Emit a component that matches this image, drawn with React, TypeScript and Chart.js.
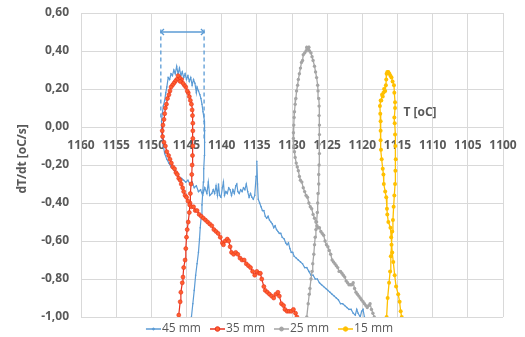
import React, { useEffect, useRef } from 'react';
import { Chart, registerables } from 'chart.js';

Chart.register(...registerables);

// ---------- axes ----------
const T_MIN = 1100;
const T_MAX = 1160;
const T_STEP = 5;
const RATE_MIN = -1;
const RATE_MAX = 0.6;
const RATE_STEP = 0.2;
const X_TITLE = 'T [oC]';
const X_TITLE_T = 1111.8;
const X_TITLE_RATE = 0.074;
const Y_TITLE = 'dT/dt [oC/s]';
const Y_TITLE_RATE = -0.168;

// ---------- series ----------
const SERIES_NAMES = ['45 mm', '35 mm', '25 mm', '15 mm'];

const t45 = [1144.3,1144.1,1143.9,1143.7,1143.5,1143.3,1143.15,1143.05,1142.9,1142.8,1142.7,1142.6,1142.55,1142.45,1142.4,1142.4,
  1142.5,1142.65,1142.8,1142.95,1143.1,1143.3,1143.5,1143.6,1143.8,1144.0,1144.2,1144.4,1144.6,1144.8,1145.0,1145.2,1145.4,1145.6,1145.8,1146.0,1146.2,1146.4,1146.6,1146.8,1147.0,1147.2,1147.4,1147.6,1147.8,
  1147.95,1148.1,1148.3,1148.45,1148.55,1148.55,1148.45,1148.3,1148.1,1147.8,
  1147.5,1147.2,1146.9,1146.6,1146.3,1146.0,1145.7,1145.4,1145.1,1144.8,1144.5,1144.2,1143.9,1143.6,1143.3,1143.0,1142.7,
  1142.4,1142.1,1141.9,1141.7,1141.4,1141.2,1141.0,1140.8,1140.6,1140.45,1140.3,1140.1,1139.9,1139.75,1139.6,1139.4,1139.2,1139.0,1138.8,1138.6,1138.4,1138.2,1138.0,1137.85,1137.7,1137.5,1137.3,1137.1,1136.9,1136.7,1136.5,1136.3,1136.1,1135.9,1135.7,1135.5,1135.3,
  1135.1,1135.0,1134.9,1134.8,1134.6,
  1134.4,1134.2,1134.0,1133.8,1133.6,1133.4,1133.2,1133.0,1132.8,1132.6,1132.4,1132.2,1132.0,1131.8,1131.6,1131.4,
  1131.1,1130.9,1130.7,1130.5,1130.3,1130.1,1129.9,1129.7,
  1129.4,1129.1,1128.8,1128.5,1128.2,1127.9,1127.6,1127.3,1127.0,1126.7,1126.4,1126.1,1125.8,1125.5,1125.2,1124.9,1124.6,1124.3,1124.0,1123.7,1123.4,1123.1,1122.8,1122.5,1122.2,1121.9,1121.6,1121.3,1121.0,
  1120.8,1120.6,1120.3,1120.1,1119.9,1119.7];
const rate45 = [-1.00,-0.93,-0.86,-0.78,-0.72,-0.66,-0.59,-0.53,-0.47,-0.41,-0.35,-0.29,-0.22,-0.15,-0.08,-0.02,
  0.03,0.08,0.12,0.15,0.17,0.19,0.21,0.18,0.23,0.25,0.22,0.26,0.24,0.27,0.25,0.28,0.26,0.29,0.27,0.31,0.28,0.32,0.28,0.30,0.27,0.28,0.25,0.26,0.21,
  0.18,0.14,0.11,0.07,0.03,-0.02,-0.06,-0.10,-0.14,-0.17,
  -0.19,-0.21,-0.22,-0.24,-0.25,-0.27,-0.27,-0.28,-0.29,-0.28,-0.30,-0.29,-0.32,-0.31,-0.34,-0.33,-0.36,
  -0.32,-0.35,-0.29,-0.36,-0.35,-0.33,-0.35,-0.31,-0.36,-0.30,-0.36,-0.37,-0.32,-0.29,-0.36,-0.34,-0.35,-0.32,-0.33,-0.36,-0.33,-0.35,-0.31,-0.30,-0.34,-0.35,-0.33,-0.34,-0.32,-0.33,-0.30,-0.34,-0.37,-0.35,-0.37,-0.38,-0.36,
  -0.26,-0.18,-0.30,-0.38,-0.40,
  -0.42,-0.44,-0.44,-0.47,-0.48,-0.47,-0.49,-0.50,-0.51,-0.53,-0.52,-0.54,-0.55,-0.56,-0.56,-0.58,
  -0.59,-0.61,-0.62,-0.61,-0.64,-0.66,-0.66,-0.68,
  -0.69,-0.70,-0.71,-0.72,-0.74,-0.74,-0.76,-0.78,-0.78,-0.80,-0.80,-0.82,-0.83,-0.84,-0.85,-0.86,-0.87,-0.88,-0.89,-0.90,-0.91,-0.93,-0.93,-0.94,-0.95,-0.96,-0.96,-0.98,-0.99,
  -0.96,-0.98,-1.00,-0.97,-0.96,-1.00];

const t35 = [1146.1,1145.9,1145.8,1145.6,1145.5,1145.4,1145.2,1145.1,1145.0,1144.9,
  1144.75,1144.6,1144.5,1144.45,1144.35,1144.25,1144.2,1144.15,1144.1,1144.1,
  1144.1,1144.1,1144.15,1144.2,1144.3,1144.45,1144.6,1144.75,1144.9,1145.1,
  1145.3,1145.5,1145.7,1145.9,1146.0,1146.2,1146.4,1146.6,1146.8,1147.0,
  1147.2,1147.35,1147.5,1147.7,1147.85,1148.0,1148.1,1148.2,1148.35,1148.45,
  1148.4,1148.2,1148.0,1147.8,1147.55,1147.35,1147.15,1146.95,1146.7,1146.5,
  1146.3,1146.1,1145.9,1145.75,1145.55,1145.4,1145.2,1145.0,1144.8,1144.55,
  1144.3,1144.0,1143.75,1143.5,1143.2,1142.9,1142.6,1142.3,1142.0,1141.7,
  1141.4,1141.1,1140.8,1140.5,1140.2,1139.9,1139.75,1139.5,1139.2,1139.0,
  1138.8,1138.6,1138.3,1138.0,1137.7,1137.4,1137.1,1136.8,1136.5,1136.2,
  1135.9,1135.6,1135.3,1135.0,1134.7,1134.5,1134.3,1134.0,1133.8,1133.5,
  1133.2,1132.9,1132.6,1132.3,1132.0,1131.8,1131.5,1131.2,1131.0,1130.7,
  1130.4,1130.1,1129.8,1129.5,1129.3];
const rate35 = [-0.99,-0.92,-0.87,-0.82,-0.79,-0.74,-0.70,-0.64,-0.58,-0.54,
  -0.50,-0.45,-0.40,-0.35,-0.30,-0.25,-0.20,-0.15,-0.10,-0.06,
  -0.02,0.02,0.06,0.09,0.12,0.14,0.16,0.18,0.19,0.21,
  0.22,0.23,0.25,0.24,0.26,0.27,0.25,0.24,0.23,0.22,
  0.21,0.19,0.17,0.15,0.12,0.10,0.07,0.04,0.01,-0.02,
  -0.05,-0.08,-0.10,-0.13,-0.15,-0.17,-0.19,-0.21,-0.22,-0.24,
  -0.25,-0.27,-0.28,-0.30,-0.32,-0.34,-0.36,-0.37,-0.39,-0.41,
  -0.42,-0.42,-0.44,-0.44,-0.46,-0.47,-0.48,-0.49,-0.50,-0.51,
  -0.52,-0.54,-0.55,-0.56,-0.58,-0.61,-0.62,-0.60,-0.59,-0.60,
  -0.63,-0.66,-0.67,-0.66,-0.67,-0.69,-0.70,-0.70,-0.72,-0.73,
  -0.74,-0.76,-0.78,-0.76,-0.77,-0.77,-0.80,-0.84,-0.86,-0.87,
  -0.88,-0.89,-0.90,-0.88,-0.87,-0.89,-0.93,-0.94,-0.96,-0.97,
  -0.97,-0.97,-0.96,-0.98,-1.00];

const t25 = [1127.9,1127.7,1127.55,1127.45,1127.3,1127.15,1127.05,1126.9,1126.8,1126.7,
  1126.6,1126.5,1126.4,1126.35,1126.3,1126.2,1126.2,1126.15,1126.1,1126.1,
  1126.1,1126.1,1126.15,1126.15,1126.2,1126.3,1126.35,1126.5,1126.65,1126.8,
  1127.0,1127.15,1127.3,1127.5,1127.6,1127.7,1127.9,1128.0,1128.2,1128.4,
  1128.5,1128.65,1128.8,1128.95,1129.1,1129.2,1129.35,1129.45,1129.55,1129.65,
  1129.7,1129.75,1129.8,1129.8,1129.75,1129.65,1129.55,1129.4,1129.25,1129.1,
  1128.95,1128.8,1128.6,1128.4,1128.2,1128.0,1127.8,1127.6,1127.4,1127.2,
  1127.0,1126.8,1126.6,1126.45,1126.3,1126.1,1125.9,1125.7,1125.5,1125.3,
  1125.1,1124.9,1124.7,1124.5,1124.3,1124.1,1123.9,1123.7,1123.5,1123.3,
  1123.1,1122.9,1122.7,1122.5,1122.3,1122.1,1121.9,1121.7,1121.5,1121.3,
  1121.1,1120.9,1120.7,1120.5,1120.3,1120.1,1119.9,1119.7,1119.5,1119.3,
  1119.1,1118.9,1118.7,1118.5,1118.3];
const rate25 = [-1.00,-0.93,-0.88,-0.85,-0.80,-0.76,-0.72,-0.67,-0.62,-0.58,
  -0.54,-0.50,-0.45,-0.40,-0.35,-0.30,-0.25,-0.20,-0.14,-0.09,
  -0.04,0.01,0.06,0.11,0.15,0.19,0.22,0.26,0.29,0.32,
  0.35,0.37,0.39,0.40,0.42,0.41,0.42,0.40,0.39,0.38,
  0.35,0.34,0.31,0.28,0.25,0.22,0.19,0.15,0.12,0.08,
  0.05,0.01,-0.03,-0.06,-0.10,-0.13,-0.16,-0.19,-0.21,-0.23,
  -0.26,-0.28,-0.29,-0.32,-0.34,-0.36,-0.37,-0.40,-0.42,-0.43,
  -0.46,-0.48,-0.50,-0.52,-0.53,-0.53,-0.55,-0.56,-0.57,-0.60,
  -0.62,-0.63,-0.65,-0.67,-0.70,-0.71,-0.72,-0.73,-0.74,-0.76,
  -0.76,-0.77,-0.78,-0.79,-0.81,-0.82,-0.83,-0.83,-0.83,-0.82,
  -0.85,-0.87,-0.88,-0.89,-0.90,-0.91,-0.92,-0.93,-0.94,-0.95,
  -0.94,-0.93,-0.96,-0.98,-1.00];

const t15 = [1116.55,1116.4,1116.2,1116.05,1115.95,1115.85,1115.75,1115.65,1115.55,1115.45,
  1115.35,1115.3,1115.25,1115.3,1115.35,1115.4,1115.45,1115.35,1115.35,1115.45,
  1115.5,1115.7,1115.85,1116.0,1116.15,1116.3,1116.45,1116.55,1116.6,1116.65,
  1116.75,1116.9,1117.0,1117.1,1117.2,1117.3,1117.4,1117.5,1117.45,1117.4,
  1117.4,1117.4,1117.35,1117.25,1117.1,1117.0,1116.95,1116.75,1116.6,1116.5,
  1116.45,1116.3,1116.0,1115.9,1115.75,1115.6,1115.4,1115.2,1114.9,1114.7,
  1114.55,1114.4];
const rate15 = [-1.00,-0.90,-0.82,-0.76,-0.68,-0.62,-0.55,-0.49,-0.42,-0.36,
  -0.30,-0.23,-0.17,-0.10,-0.04,0.02,0.05,0.10,0.13,0.18,
  0.22,0.24,0.26,0.27,0.28,0.29,0.29,0.28,0.25,0.22,
  0.19,0.20,0.18,0.16,0.17,0.14,0.14,0.11,0.07,0.03,
  -0.02,-0.07,-0.12,-0.17,-0.22,-0.25,-0.30,-0.34,-0.37,-0.43,
  -0.46,-0.50,-0.53,-0.58,-0.66,-0.71,-0.78,-0.84,-0.88,-0.92,
  -0.97,-1.00];

// ---------- bracket annotation (dashed markers around the 45 mm loop) ----------
const BRACKET_T = [1148.65, 1142.5];
const BRACKET_TOP = 0.52;
const BRACKET_BOTTOM = [0.05, -0.06];
const BRACKET_LEVEL = 0.5;
const ARROW_LEN = 0.45;
const ARROW_HALF = 0.016;

// ---------- styles ----------
const FONT = '"Open Sans", "Liberation Sans", sans-serif';
const TEXT = '#595959';
const GRID = '#D9D9D9';
const BLUE = '#5B9BD5';
const RED_LINE = '#E8321E';
const RED_FILL = '#FF5F2E';
const GREY = '#A5A5A5';
const GOLD = '#FFC000';
const CLEAR = 'rgba(0,0,0,0)';

const pts = (t: number[], r: number[]) => t.map((x, i) => ({ x, y: r[i] }));

// legend symbol: line with a marker, drawn in the right 15px of a 23px image
function makeSymbol(line: string, fill: string, stroke: string, r: number, lw: number) {
  const c = document.createElement('canvas');
  c.width = 23;
  c.height = 10;
  const g = c.getContext('2d')!;
  g.strokeStyle = line;
  g.lineWidth = lw;
  g.beginPath();
  g.moveTo(8, 5);
  g.lineTo(23, 5);
  g.stroke();
  if (r > 0) {
    g.beginPath();
    g.arc(15.5, 5, r, 0, Math.PI * 2);
    g.fillStyle = fill;
    g.fill();
    g.strokeStyle = stroke;
    g.lineWidth = 1;
    g.stroke();
  }
  return c;
}

const axisTitlesPlugin = {
  id: 'axisTitlesInside',
  afterDraw(chart: any) {
    const { ctx, scales, chartArea } = chart;
    ctx.save();
    ctx.font = `bold 12px ${FONT}`;
    ctx.fillStyle = TEXT;
    ctx.textAlign = 'center';
    ctx.textBaseline = 'middle';
    ctx.fillText(X_TITLE, scales.x.getPixelForValue(X_TITLE_T), scales.y.getPixelForValue(X_TITLE_RATE));
    ctx.translate(chartArea.left - 58, scales.y.getPixelForValue(Y_TITLE_RATE));
    ctx.rotate(-Math.PI / 2);
    ctx.fillText(Y_TITLE, 0, 0);
    ctx.restore();
  },
};

export default function App() {
  const ref = useRef<HTMLCanvasElement>(null);

  useEffect(() => {
    if (!ref.current) return;
    const symbols = [
      makeSymbol(BLUE, BLUE, BLUE, 1, 1.5),
      makeSymbol(RED_LINE, RED_FILL, RED_LINE, 2.3, 1.5),
      makeSymbol(GREY, GREY, GREY, 2, 1.5),
      makeSymbol(GOLD, GOLD, GOLD, 2.2, 1.5),
    ];
    const dash = (data: any[], dashed: boolean) => ({
      label: '',
      data,
      showLine: true,
      borderColor: BLUE,
      backgroundColor: BLUE,
      borderWidth: 1.3,
      borderDash: dashed ? [4, 3] : [],
      pointRadius: 0,
      order: 0,
    });
    const chart = new Chart(ref.current, {
      type: 'scatter',
      data: {
        datasets: [
          {
            label: SERIES_NAMES[0],
            data: pts(t45, rate45),
            showLine: true,
            borderColor: BLUE,
            backgroundColor: BLUE,
            borderWidth: 1.2,
            pointRadius: 0.8,
            pointBorderWidth: 0,
            order: 4,
          },
          {
            label: SERIES_NAMES[1],
            data: pts(t35, rate35),
            showLine: true,
            borderColor: RED_LINE,
            backgroundColor: RED_FILL,
            borderWidth: 1.2,
            pointRadius: 2,
            pointBorderColor: RED_LINE,
            pointBackgroundColor: RED_FILL,
            pointBorderWidth: 0.6,
            order: 3,
          },
          {
            label: SERIES_NAMES[2],
            data: pts(t25, rate25),
            showLine: true,
            borderColor: GREY,
            backgroundColor: GREY,
            borderWidth: 1.3,
            pointRadius: 1.7,
            pointBorderWidth: 0,
            order: 2,
          },
          {
            label: SERIES_NAMES[3],
            data: pts(t15, rate15),
            showLine: true,
            borderColor: GOLD,
            backgroundColor: GOLD,
            borderWidth: 1.3,
            pointRadius: 2,
            pointBorderWidth: 0,
            order: 1,
          },
          dash([{ x: BRACKET_T[0], y: BRACKET_BOTTOM[0] }, { x: BRACKET_T[0], y: BRACKET_TOP }], true),
          dash([{ x: BRACKET_T[1], y: BRACKET_BOTTOM[1] }, { x: BRACKET_T[1], y: BRACKET_TOP }], true),
          dash([{ x: BRACKET_T[0], y: BRACKET_LEVEL }, { x: BRACKET_T[1], y: BRACKET_LEVEL }], false),
          dash([
            { x: BRACKET_T[0] - ARROW_LEN, y: BRACKET_LEVEL + ARROW_HALF },
            { x: BRACKET_T[0], y: BRACKET_LEVEL },
            { x: BRACKET_T[0] - ARROW_LEN, y: BRACKET_LEVEL - ARROW_HALF },
          ], false),
          dash([
            { x: BRACKET_T[1] + ARROW_LEN, y: BRACKET_LEVEL + ARROW_HALF },
            { x: BRACKET_T[1], y: BRACKET_LEVEL },
            { x: BRACKET_T[1] + ARROW_LEN, y: BRACKET_LEVEL - ARROW_HALF },
          ], false),
        ],
      },
      options: {
        responsive: false,
        animation: false,
        devicePixelRatio: 1,
        layout: { padding: { left: 11, right: 0, top: 13, bottom: -8 } },
        plugins: {
          tooltip: { enabled: false },
          legend: {
            position: 'bottom',
            labels: {
              usePointStyle: true,
              pointStyleWidth: 13,
              padding: 6,
              color: TEXT,
              font: { family: FONT, size: 12 },
              generateLabels: () =>
                SERIES_NAMES.map((name, i) => ({
                  text: name,
                  pointStyle: symbols[i] as any,
                  datasetIndex: i,
                  hidden: false,
                  lineWidth: 0,
                  fillStyle: CLEAR,
                  strokeStyle: CLEAR,
                  fontColor: TEXT,
                })),
            },
          },
        },
        scales: {
          x: {
            type: 'linear',
            reverse: true,
            min: T_MIN,
            max: T_MAX,
            position: { y: 0 } as any,
            grid: { color: GRID, lineWidth: 1, drawTicks: true, tickLength: 11, tickColor: CLEAR },
            border: { color: GRID, width: 1 },
            ticks: {
              stepSize: T_STEP,
              autoSkip: false,
              maxRotation: 0,
              padding: 0,
              color: TEXT,
              font: { family: FONT, size: 12, weight: 'bold' },
              callback: (v: any) => String(Math.round(Number(v))),
            },
          },
          y: {
            type: 'linear',
            position: 'left',
            min: RATE_MIN,
            max: RATE_MAX,
            grid: { color: GRID, lineWidth: 1, drawTicks: true, tickLength: 12, tickColor: CLEAR },
            border: { color: GRID, width: 1 },
            ticks: {
              stepSize: RATE_STEP,
              padding: 0,
              color: TEXT,
              font: { family: FONT, size: 12, weight: 'bold' },
              callback: (v: any) => Number(v).toFixed(2).replace('.', ','),
            },
            afterFit: (s: any) => {
              s.width = 70;
            },
          },
          yR: {
            type: 'linear',
            position: 'right',
            display: true,
            grid: { display: false, drawTicks: false },
            border: { display: false },
            ticks: { display: false },
            afterFit: (s: any) => {
              s.width = 22;
            },
          },
        },
      } as any,
      plugins: [axisTitlesPlugin],
    });
    return () => chart.destroy();
  }, []);

  return (
    <div style={{ position: 'absolute', left: 0, top: 0, width: 525, height: 337, background: '#fff' }}>
      <canvas ref={ref} width={525} height={337} style={{ display: 'block' }} />
    </div>
  );
}
